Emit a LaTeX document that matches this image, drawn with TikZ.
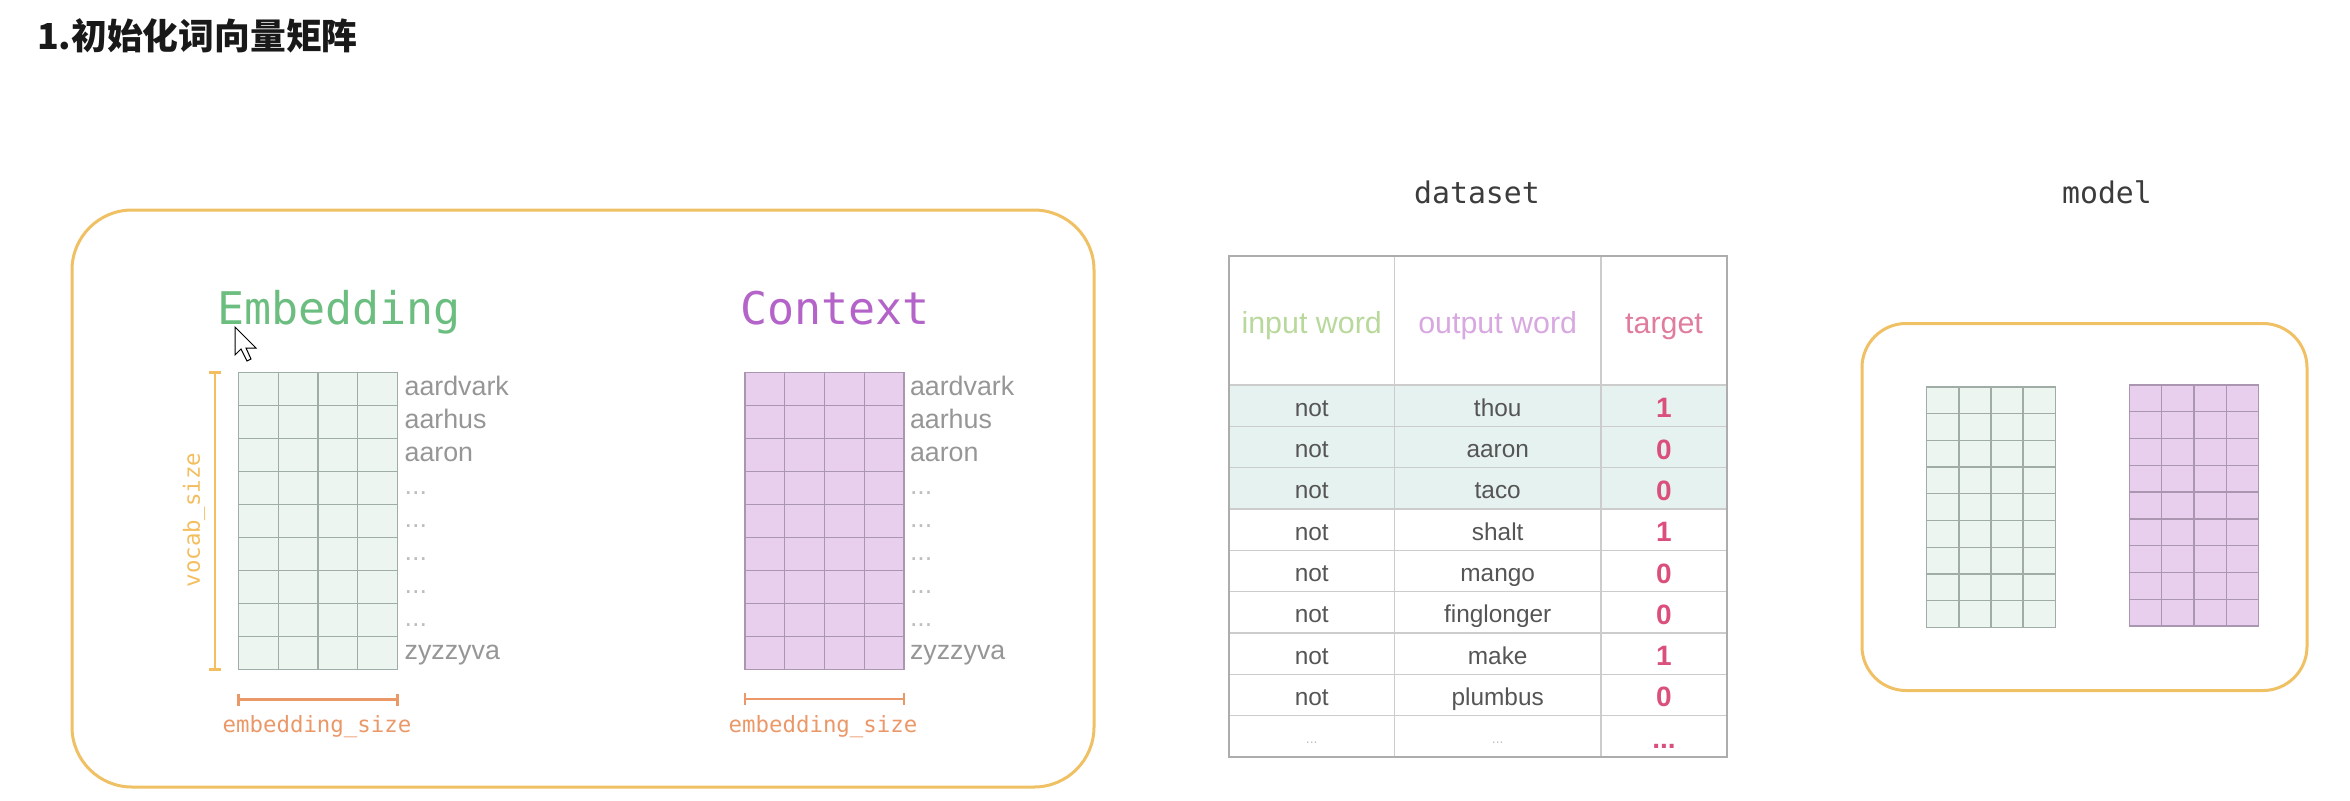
\documentclass[tikz,border=0pt]{standalone}
\usepackage{fontspec}
\setmainfont{Liberation Sans}
\newfontfamily\monofam{DejaVu Sans Mono}
\newfontfamily\cjkfam{Noto Sans CJK SC}
\definecolor{boxorange}{RGB}{240,192,100}
\definecolor{embgreen}{RGB}{108,190,128}
\definecolor{ctxpurple}{RGB}{180,100,200}
\definecolor{gfill}{RGB}{237,245,241}
\definecolor{gline}{RGB}{160,172,166}
\definecolor{pfill}{RGB}{232,207,238}
\definecolor{pline}{RGB}{170,150,176}
\definecolor{wordgrey}{RGB}{150,150,150}
\definecolor{dotgrey}{RGB}{190,190,190}
\definecolor{vocaborange}{RGB}{243,190,95}
\definecolor{embsizeorange}{RGB}{235,152,105}
\definecolor{darktext}{RGB}{60,60,60}
\definecolor{hinput}{RGB}{184,216,156}
\definecolor{houtput}{RGB}{216,168,224}
\definecolor{htarget}{RGB}{224,124,158}
\definecolor{tnum}{RGB}{219,79,124}
\definecolor{tline}{RGB}{204,204,204}
\definecolor{tfill}{RGB}{230,242,239}
\definecolor{bodytext}{RGB}{85,85,85}
\newcommand{\cellgrid}[6]{%
  \fill[#5] (#1,#2) rectangle (#3,#4);
  \foreach \i in {1,2,3} {\draw[#6,line width=0.7pt] ({#1+\i*(#3-#1)/4},#2) -- ({#1+\i*(#3-#1)/4},#4);}
  \foreach \j in {1,...,8} {\draw[#6,line width=0.7pt] (#1,{#2+\j*(#4-#2)/9}) -- (#3,{#2+\j*(#4-#2)/9});}
  \draw[#6,line width=0.7pt] (#1,#2) rectangle (#3,#4);
}
\tikzset{
  lbl/.style={inner sep=0pt, outer sep=0pt},
  word/.style={lbl, anchor=base west, font=\fontsize{13.4}{13.4}\selectfont, text=wordgrey},
  dotword/.style={lbl, anchor=base west, font=\fontsize{13.4}{13.4}\selectfont, text=dotgrey},
  bigtitle/.style={lbl, anchor=base west, font=\monofam\fontsize{22.5}{22.5}\selectfont},
  dimlabel/.style={lbl, font=\monofam\fontsize{11.2}{11.2}\selectfont},
  sectitle/.style={lbl, font=\monofam\fontsize{14.9}{14.9}\selectfont, text=darktext, anchor=base},
  roundbox/.style={draw=boxorange, line width=1.5pt, fill=none},
  hdr/.style={lbl, anchor=base, font=\fontsize{15.2}{15.2}\selectfont},
  cell/.style={lbl, anchor=base, font=\fontsize{12.2}{12.2}\selectfont, text=bodytext},
  tgt/.style={lbl, anchor=base, font=\bfseries\fontsize{14}{14}\selectfont, text=tnum},
  tabline/.style={draw=tline, line width=0.8pt},
  dimbar/.style={line width=1.3pt},
}
\begin{document}
\begin{tikzpicture}[x=0.5pt,y=-0.5pt]
\useasboundingbox (0,0) rectangle (2350,800);
% title
\node[lbl, anchor=base west, font=\cjkfam\bfseries\fontsize{17.9}{17.9}\selectfont, text=black!90] (title) at (37,49) {1.初始化词向量矩阵};

% big box
\node[roundbox, rounded corners=30pt, minimum width=511pt, minimum height=288.5pt, inner sep=0pt] (mainbox) at (583,498.5) {};

% Embedding
\node[bigtitle, text=embgreen] (embtitle) at (217,324) {Embedding};
\cellgrid{238.6}{372.5}{397.5}{669.6}{gfill}{gline}
% Context
\node[bigtitle, text=ctxpurple] (ctxtitle) at (740,324) {Context};
\cellgrid{745}{372.5}{904}{669.6}{pfill}{pline}

% word lists
\foreach \x/\nm in {404.6/e,910/c} {
  \node[word] (\nm w1) at (\x,{372.5+0.5*33.01+6.7}) {aardvark};
  \node[word] (\nm w2) at (\x,{372.5+1.5*33.01+6.7}) {aarhus};
  \node[word] (\nm w3) at (\x,{372.5+2.5*33.01+6.7}) {aaron};
  \foreach \k in {4,...,8} {\node[dotword] (\nm w\k) at (\x,{372.5+(\k-0.5)*33.01+6}) {...};}
  \node[word] (\nm w9) at (\x,{372.5+8.5*33.01+6.7}) {zyzzyva};
}

% vocab_size bracket
\coordinate (vtop) at (215,372.5);
\coordinate (vbot) at (215,669.6);
\draw[dimbar, draw=vocaborange] (vtop) -- (vbot);
\draw[dimbar, draw=vocaborange] ([xshift=-3pt]vtop) -- ([xshift=3pt]vtop);
\draw[dimbar, draw=vocaborange] ([xshift=-3pt]vbot) -- ([xshift=3pt]vbot);
\node[dimlabel, text=vocaborange, rotate=90] (vocab) at (194,520) {vocab\_size};

% embedding_size brackets
\coordinate (ea) at (238.6,699.5);
\coordinate (eb) at (397.5,699.5);
\draw[dimbar, draw=embsizeorange] (ea) -- (eb);
\draw[dimbar, draw=embsizeorange] ([yshift=-3pt]ea) -- ([yshift=3pt]ea);
\draw[dimbar, draw=embsizeorange] ([yshift=-3pt]eb) -- ([yshift=3pt]eb);
\node[dimlabel, text=embsizeorange] (esize1) at (317,727) {embedding\_size};
\coordinate (ca) at (745,699);
\coordinate (cb) at (904,699);
\draw[dimbar, draw=embsizeorange] (ca) -- (cb);
\draw[dimbar, draw=embsizeorange] ([yshift=-3pt]ca) -- ([yshift=3pt]ca);
\draw[dimbar, draw=embsizeorange] ([yshift=-3pt]cb) -- ([yshift=3pt]cb);
\node[dimlabel, text=embsizeorange] (esize2) at (823,727) {embedding\_size};

% cursor
\draw[fill=white, draw=black, line width=0.5pt] (235,327) -- (235,355) -- (241,349) -- (247,361) -- (251,359) -- (246,348) -- (256,348) -- cycle;

% dataset
\node[sectitle] (dstitle) at (1477,203) {dataset};
\fill[tfill] (1229,385) rectangle (1727,509);
\foreach \k in {0,...,8} {\draw[tabline] (1229,{385+\k*41.33}) -- (1727,{385+\k*41.33});}
\draw[tabline] (1394.5,256) -- (1394.5,757);
\draw[tabline] (1601,256) -- (1601,757);
\draw[draw=tline!85!black, line width=0.9pt] (1229,256) rectangle (1727,757);
\node[hdr, text=hinput] (h1) at (1311.7,333) {input word};
\node[hdr, text=houtput] (h2) at (1497.7,333) {output word};
\node[hdr, text=htarget] (h3) at (1664,333) {target};
\foreach \w/\t [count=\k] in {thou/1,aaron/0,taco/0,shalt/1,mango/0,finglonger/0,make/1,plumbus/0} {
  \node[cell] (in\k) at (1311.7,{385+(\k-0.5)*41.33+10.5}) {not};
  \node[cell] (out\k) at (1497.7,{385+(\k-0.5)*41.33+10.5}) {\w};
  \node[tgt] (tg\k) at (1664,{385+(\k-0.5)*41.33+12}) {\t};
}
\node[lbl, font=\fontsize{7}{7}\selectfont, text=dotgrey, anchor=base] (in9) at (1311.7,743) {...};
\node[lbl, font=\fontsize{7}{7}\selectfont, text=dotgrey, anchor=base] (out9) at (1497.7,743) {...};
\node[tgt] (tg9) at (1664,748) {...};

% model
\node[sectitle] (mtitle) at (2107,203) {model};
\node[roundbox, rounded corners=22pt, minimum width=222.5pt, minimum height=183.5pt, inner sep=0pt] (modelbox) at (2084.5,507) {};
\cellgrid{1926.7}{386.8}{2055.3}{627.5}{gfill}{gline}
\cellgrid{2129.4}{385}{2258.5}{626}{pfill}{pline}
\end{tikzpicture}
\end{document}
